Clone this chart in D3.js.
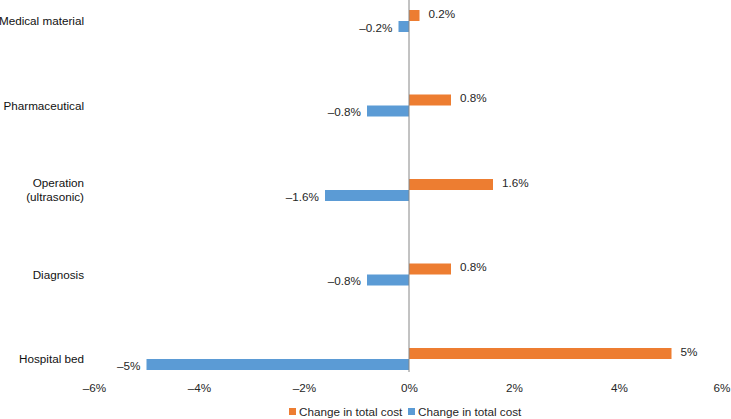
<!DOCTYPE html>
<html>
<head>
<meta charset="utf-8">
<script src="https://cdn.jsdelivr.net/npm/d3@7"></script>
<style>
  body { margin: 0; background: #fff; }
  text { font-family: "Liberation Sans", Arial, sans-serif; }
</style>
</head>
<body>
<svg id="chart" width="731" height="419"></svg>
<script>
// Data
const categories = ['Medical material', 'Pharmaceutical', 'Operation (ultrasonic)', 'Diagnosis', 'Hospital bed'];
const increaseValues = [0.2, 0.8, 1.6, 0.8, 5];     // orange
const decreaseValues = [-0.2, -0.8, -1.6, -0.8, -5]; // blue
const xTicks = [-6, -4, -2, 0, 2, 4, 6];
const seriesNames = ['Change in total cost', 'Change in total cost'];

const orange = '#ed7d31', blue = '#5b9bd5';
const textColor = '#262626';
const fontSize = 11.7;
const svg = d3.select('#chart');

const x = d3.scaleLinear().domain([-6, 6]).range([94, 724]);
const y = d3.scalePoint().domain(categories).range([21, 359]);
const barH = 11;

// format with en dash minus, like the original
const fmt = v => (v < 0 ? '\u2013' : '') + Math.abs(v) + '%';

// orange bars (above category center)
svg.selectAll('.inc')
    .data(categories)
    .enter().append('rect')
    .attr('x', x(0))
    .attr('y', d => y(d) - barH)
    .attr('width', (d, i) => x(increaseValues[i]) - x(0))
    .attr('height', barH)
    .attr('fill', orange);

// blue bars (below category center)
svg.selectAll('.dec')
    .data(categories)
    .enter().append('rect')
    .attr('x', (d, i) => x(decreaseValues[i]))
    .attr('y', d => y(d))
    .attr('width', (d, i) => x(0) - x(decreaseValues[i]))
    .attr('height', barH)
    .attr('fill', blue);

// value labels
svg.selectAll('.incLabel')
    .data(categories)
    .enter().append('text')
    .attr('x', (d, i) => x(increaseValues[i]) + 9)
    .attr('y', d => y(d) - barH / 2 - 2)
    .attr('dy', '0.35em')
    .attr('font-size', fontSize)
    .attr('fill', textColor)
    .text((d, i) => fmt(increaseValues[i]));

svg.selectAll('.decLabel')
    .data(categories)
    .enter().append('text')
    .attr('x', (d, i) => x(decreaseValues[i]) - 6)
    .attr('y', d => y(d) + barH / 2 + 1)
    .attr('dy', '0.35em')
    .attr('text-anchor', 'end')
    .attr('font-size', fontSize)
    .attr('fill', textColor)
    .text((d, i) => fmt(decreaseValues[i]));

// zero axis line
svg.append('line')
    .attr('x1', x(0)).attr('x2', x(0))
    .attr('y1', 0).attr('y2', 372)
    .attr('stroke', '#868686')
    .attr('stroke-width', 1);

// category labels (wrap on parentheses)
svg.selectAll('.cat')
    .data(categories)
    .enter().append('text')
    .attr('text-anchor', 'end')
    .attr('font-size', fontSize)
    .attr('fill', '#111')
    .each(function(d) {
        const lines = d.includes('(') ? [d.slice(0, d.indexOf('(')).trim(), d.slice(d.indexOf('('))] : [d];
        const t = d3.select(this);
        lines.forEach((l, k) => {
            t.append('tspan')
                .attr('x', 84)
                .attr('y', y(d) + (k - (lines.length - 1) / 2) * 14)
                .attr('dy', '0.35em')
                .text(l);
        });
    });

// x axis tick labels
const xAxis = d3.axisBottom(x)
    .tickValues(xTicks)
    .tickSize(0)
    .tickFormat(fmt);
svg.append('g')
    .attr('transform', 'translate(0,381)')
    .call(xAxis)
    .call(g => g.select('.domain').remove())
    .call(g => g.selectAll('text')
        .attr('font-family', '"Liberation Sans", Arial, sans-serif')
        .attr('font-size', fontSize)
        .attr('fill', textColor))
    // keep the last label inside the picture, flush with its right edge
    .call(g => g.selectAll('.tick').filter(d => d === 6).select('text')
        .attr('text-anchor', 'end')
        .attr('x', 730 - x(6)));

// legend
const legend = svg.append('g');
const legendX = [289, 408];
[orange, blue].forEach((c, i) => {
    legend.append('rect')
        .attr('x', legendX[i]).attr('y', 408)
        .attr('width', 7).attr('height', 7)
        .attr('fill', c);
    legend.append('text')
        .attr('x', legendX[i] + 10).attr('y', 412)
        .attr('dy', '0.35em')
        .attr('font-size', fontSize)
        .attr('fill', textColor)
        .text(seriesNames[i]);
});
</script>
</body>
</html>
